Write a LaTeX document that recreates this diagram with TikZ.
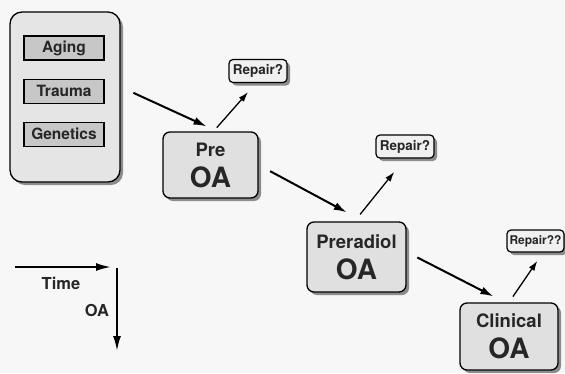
\documentclass[tikz,border=0pt]{standalone}
\usepackage{fontspec}
\setmainfont{TeX Gyre Heros}
\usetikzlibrary{arrows.meta,positioning,shadows}
\tikzset{
  arr/.style={line width=2pt, -{Latex[length=13pt,width=8pt]}},
  rarr/.style={line width=1.3pt, -{Latex[length=10pt,width=6.5pt]}},
  axis/.style={line width=2pt, -{Latex[length=15pt,width=8pt]}},
  dshadow/.style={drop shadow={shadow xshift=3pt, shadow yshift=-3pt, fill=black!45, opacity=1}},
  grp/.style={draw, line width=1.3pt, rounded corners=12pt, fill=black!10, dshadow,
    minimum width=110pt, minimum height=170pt},
  factor/.style={draw, line width=1.1pt, fill=black!22, minimum width=80pt, minimum height=24pt,
    inner sep=0pt, font=\fontsize{15.5}{17}\selectfont\bfseries},
  stage/.style={draw, line width=1.3pt, rounded corners=7pt, fill=black!12, dshadow, align=center,
    inner sep=0pt, font=\fontsize{28}{31}\selectfont\bfseries},
  rep/.style={draw, line width=1.2pt, rounded corners=4pt, fill=black!6, dshadow, minimum height=23pt,
    inner sep=0pt, font=\fontsize{13.5}{15}\selectfont\bfseries},
  axlbl/.style={font=\fontsize{16.5}{19}\selectfont\bfseries},
}
\newcommand{\two}[1]{{\fontsize{18.5}{21}\selectfont #1}\\OA}

\begin{document}
\begin{tikzpicture}[x=1pt, y=-1pt, text=black!85]

\useasboundingbox (0,0) rectangle (565,373);
\clip (0,0) rectangle (565,373);
\fill[black!3] (0,0) rectangle (565,373);

\node[grp] (risk) at (65,97) {};
\node[factor] (aging) at (64,48) {Aging};
\node[factor, below=18pt of aging] (trauma) {Trauma};
\node[factor, below=18pt of trauma] (genes) {Genetics};

\node[stage, minimum width=95pt, minimum height=66pt] (pre) at (210.5,165) {\two{Pre}};
\node[stage, minimum width=99pt, minimum height=70pt] (prd) at (356.5,257) {\two{Preradiol}};
\node[stage, minimum width=98pt, minimum height=67pt] (cln) at (509,336.5) {\two{Clinical}};

\node[rep, minimum width=58pt] (rep1) at (258,71) {Repair?};
\node[rep, minimum width=58pt] (rep2) at (405,146.5) {Repair?};
\node[rep, minimum width=57pt, minimum height=22pt, font=\fontsize{12}{14}\selectfont\bfseries]
  (rep3) at (535.5,241) {Repair??};

\draw[arr, shorten <=14pt, shorten >=12pt] ([yshift=10pt]risk.east) -- ([xshift=7pt]pre.north);
\draw[rarr, shorten <=5pt, shorten >=12pt] ([xshift=3pt]pre.north) -- ([xshift=-2pt]rep1.south);
\draw[arr, shorten <=13pt, shorten >=19pt] (pre.east) -- ([xshift=7pt]prd.north);
\draw[rarr, shorten <=9pt, shorten >=17pt] ([xshift=-2pt]prd.north) -- (rep2.south);
\draw[arr, shorten <=12pt, shorten >=13pt] ([yshift=5pt]prd.east) -- ([xshift=-4pt]cln.north);
\draw[rarr, shorten <=7pt, shorten >=10pt] (cln.north) -- ([xshift=7.5pt]rep3.south);

\coordinate (t0) at (15,267);
\coordinate (t1) at (111,267);
\coordinate (o0) at (117,268);
\coordinate (o1) at (117,351);
\draw[axis] (t0) -- (t1);
\draw[axis] (o0) -- (o1);
\node[axlbl] (time) at (61,283) {Time};
\node[axlbl] (oa) at (97,310) {OA};

\end{tikzpicture}
\end{document}
